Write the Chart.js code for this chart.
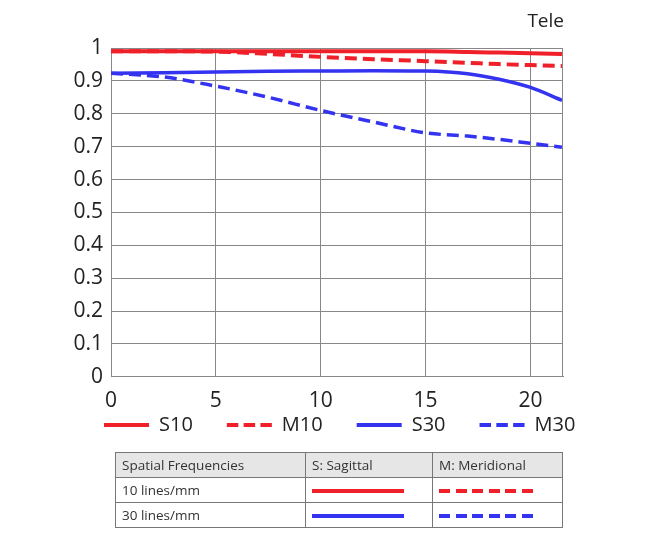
<!DOCTYPE html>
<html>
<head>
<meta charset="utf-8">
<script src="https://cdn.jsdelivr.net/npm/chart.js@4"></script>
<style>
  body { margin: 0; background: #fff; font-family: "Open Sans", sans-serif; }
  #wrap { position: relative; width: 650px; height: 553px; }
  #box { position: absolute; left: 0; top: 0; width: 650px; height: 490px; }
  #tele { position: absolute; left: 490px; top: 7px; width: 74px; text-align: right; font-size: 19px; color: #222; }
  table { position: absolute; left: 115px; top: 452px; border-collapse: collapse; font-size: 13.5px; color: #333; }
  td { border: 1px solid #777; padding: 0 6px; height: 24px; }
  tr:first-child td { background: #e6e6e6; }
  .smp { display: inline-block; width: 92px; height: 4px; vertical-align: middle; }
  .dash { width: 94px; }
</style>
</head>
<body>
<div id="wrap">
  <div id="box"><canvas id="mtfChart"></canvas></div>
  <div id="tele">Tele</div>
  <table>
    <tr><td style="width:177px">Spatial Frequencies</td><td style="width:114px">S: Sagittal</td><td style="width:117px">M: Meridional</td></tr>
    <tr><td>10 lines/mm</td><td><span class="smp" style="background:#f0202a"></span></td><td><span class="smp dash" style="background:repeating-linear-gradient(to right,#f0202a 0 11px,transparent 11px 16.6px)"></span></td></tr>
    <tr><td>30 lines/mm</td><td><span class="smp" style="background:#3333f0"></span></td><td><span class="smp dash" style="background:repeating-linear-gradient(to right,#3333f0 0 11px,transparent 11px 16.6px)"></span></td></tr>
  </table>
</div>
<script>
const ctx = document.getElementById('mtfChart')

// image height in mm
const heights = [0, 2.5, 5, 7.5, 10, 12.5, 15, 17, 18.5, 20, 21.5]
const xTicks = [0, 5, 10, 15, 20]

const s10 = [0.990, 0.990, 0.990, 0.990, 0.990, 0.990, 0.990, 0.988, 0.986, 0.984, 0.982]
const m10 = [0.990, 0.990, 0.989, 0.982, 0.973, 0.966, 0.960, 0.955, 0.951, 0.948, 0.945]
const s30 = [0.923, 0.925, 0.927, 0.929, 0.930, 0.931, 0.930, 0.922, 0.905, 0.880, 0.841]
const m30 = [0.923, 0.912, 0.884, 0.850, 0.810, 0.775, 0.742, 0.732, 0.722, 0.710, 0.698]

const red = '#f0202a'
const blue = '#3333f0'

function pts(values) {
    return values.map((v, i) => ({ x: heights[i], y: v }))
}

const datasets = [
    { label: 'S10', data: pts(s10), borderColor: red, backgroundColor: red, borderWidth: 4, borderDash: [] },
    { label: 'M10', data: pts(m10), borderColor: red, backgroundColor: red, borderWidth: 4, borderDash: [12, 6] },
    { label: 'S30', data: pts(s30), borderColor: blue, backgroundColor: blue, borderWidth: 3.5, borderDash: [] },
    { label: 'M30', data: pts(m30), borderColor: blue, backgroundColor: blue, borderWidth: 3.5, borderDash: [12, 6] }
]

const tickFont = { family: 'Open Sans', size: 21 }

const chart = new Chart(ctx, {
    type: 'line',
    data: { datasets: datasets },
    options: {
        responsive: true,
        maintainAspectRatio: false,
        animation: false,
        elements: {
            point: { radius: 0 },
            line: { tension: 0.4, cubicInterpolationMode: 'monotone' }
        },
        layout: { padding: { left: 70, right: 0, top: 48, bottom: 0 } },
        plugins: {
            title: { display: false },
            tooltip: { enabled: false },
            legend: {
                display: true,
                position: 'bottom',
                align: 'start',
                labels: {
                    usePointStyle: true,
                    pointStyle: 'line',
                    pointStyleWidth: 45,
                    boxHeight: 20,
                    padding: 34,
                    color: '#222',
                    font: { family: 'Open Sans', size: 20 },
                    generateLabels: (c) => Chart.defaults.plugins.legend.labels.generateLabels(c).map((item, i) => ({
                        ...item,
                        lineDash: c.data.datasets[i].borderDash.length ? [11.5, 5.3] : [],
                        lineWidth: 4
                    }))
                }
            }
        },
        scales: {
            x: {
                type: 'linear',
                min: 0,
                max: 21.55,
                afterBuildTicks: (scale) => { scale.ticks = xTicks.map(v => ({ value: v })) },
                ticks: { color: '#222', font: tickFont, padding: 12, maxRotation: 0 },
                grid: { color: '#888', lineWidth: 1, drawTicks: false },
                border: { color: '#888' }
            },
            y: {
                min: 0,
                max: 1,
                afterFit: (scale) => { scale.width = 41 },
                ticks: {
                    stepSize: 0.1,
                    color: '#222',
                    font: tickFont,
                    padding: 8,
                    callback: (v) => String(Math.round(v * 10) / 10)
                },
                grid: { color: '#888', lineWidth: 1, drawTicks: false },
                border: { color: '#888' }
            },
            yr: {
                type: 'linear',
                position: 'right',
                afterFit: (scale) => { scale.width = 87 },
                ticks: { display: false },
                grid: { display: false },
                border: { display: false }
            }
        }
    },
    plugins: [{
        id: 'legendUp',
        afterLayout(c) {
            // pull the legend row up closer to the axis labels
            c.legend.top -= 45
            c.legend.bottom -= 45
        }
    }, {
        id: 'frame',
        afterDraw(c) {
            const a = c.chartArea
            const g = c.ctx
            g.save()
            g.strokeStyle = '#888'
            g.lineWidth = 1
            g.beginPath()
            g.moveTo(a.left, a.top + 0.5)
            g.lineTo(a.right, a.top + 0.5)
            g.moveTo(a.right - 0.5, a.top)
            g.lineTo(a.right - 0.5, a.bottom)
            g.stroke()
            g.restore()
        }
    }]
});
</script>
</body>
</html>
